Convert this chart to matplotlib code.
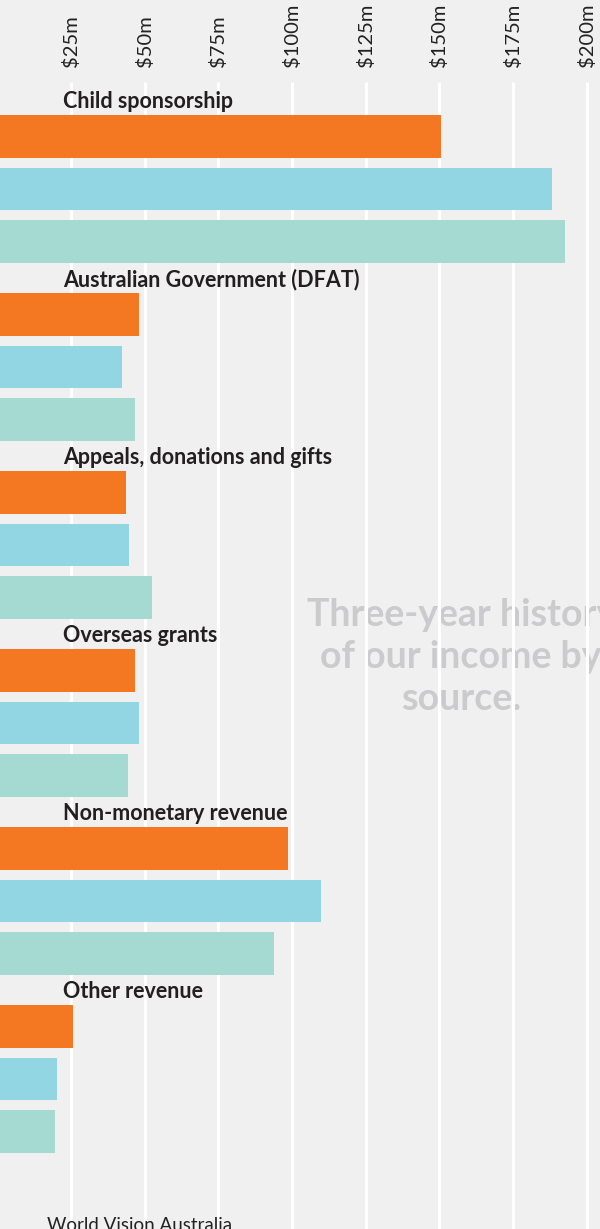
import numpy as np
import matplotlib.pyplot as plt

# income by source, $m (three years per source)
sources = ['Child sponsorship', 'Australian Government (DFAT)',
           'Appeals, donations and gifts', 'Overseas grants',
           'Non-monetary revenue', 'Other revenue']
year_a = [150.6, 48.1, 43.7, 46.8, 98.7, 25.7]
year_b = [188.2, 42.4, 44.7, 48.1, 109.9, 20.3]
year_c = [192.6, 46.8, 52.5, 44.4, 93.9, 19.6]
tick_vals = [25, 50, 75, 100, 125, 150, 175, 200]
tick_labels = ['$25m', '$50m', '$75m', '$100m', '$125m', '$150m', '$175m', '$200m']

colors = ['#F47721', '#92D6E3', '#A5DAD2']
bg = '#F0F0F0'

fig = plt.figure(figsize=(6, 12.29), dpi=100, facecolor=bg)
ax = fig.add_axes([0, 0, 1, 1])
ax.set_facecolor(bg)

group_step = 3.378
ypos = np.arange(len(sources)) * group_step
for j, vals in enumerate([year_a, year_b, year_c]):
    ax.barh(ypos + j, vals, height=0.81, color=colors[j], zorder=2)

ax.set_xlim(0.98, 204.5)
ax.set_ylim(20.735, -2.587)

# white gridlines from just below the tick labels down to the bottom
ax.vlines([0] + tick_vals, -1.031, 21, colors='white', lw=2.2, zorder=1)

for v, lab in zip(tick_vals, tick_labels):
    ax.text(v, -1.316, lab, rotation=90, ha='center', va='bottom',
            fontsize=14.5, fontfamily='Lato', fontweight='normal', color='#222222')

for y, name in zip(ypos, sources):
    ax.text(22.35, y - 0.67, name, ha='left', va='center', fontsize=15.5,
            fontfamily='Lato', fontweight='bold', color='#231F20', zorder=3)

ax.text(157.4, 9.88, 'Three-year history\nof our income by\nsource.', ha='center', va='center',
        fontsize=27, fontfamily='Lato', fontweight='bold', color='#CBCBCD',
        linespacing=1.3, zorder=0.5)

ax.text(16.9, 20.5, 'World Vision Australia', ha='left', va='top', fontsize=13.5,
        fontfamily='Lato', fontweight='normal', color='#222222')

ax.axis('off')
fig.savefig('out.png', dpi=100, facecolor=bg)
